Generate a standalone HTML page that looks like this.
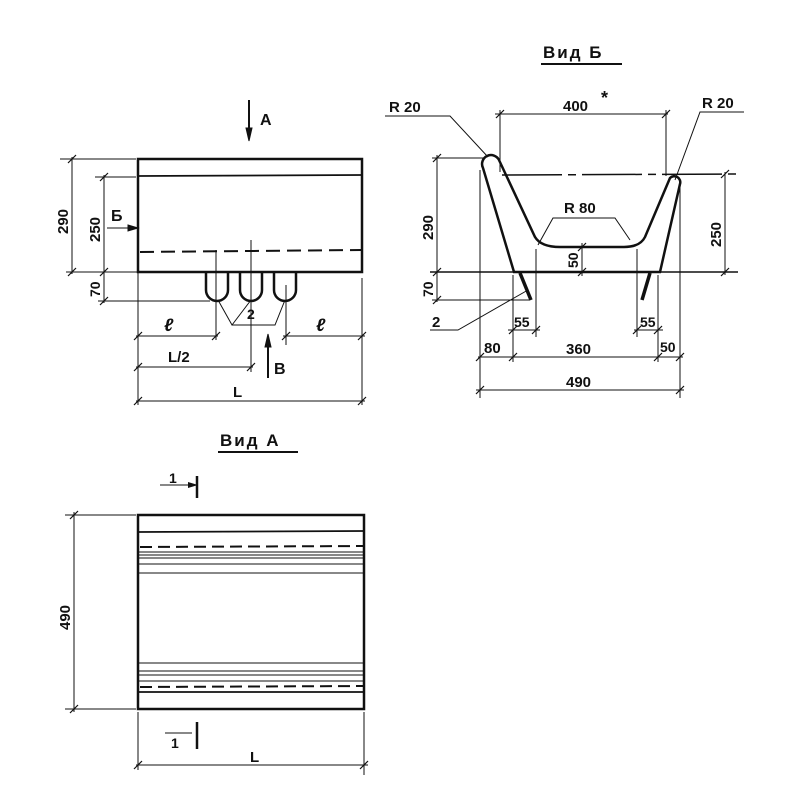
<!DOCTYPE html>
<html><head><meta charset="utf-8"><style>
body{margin:0;background:#fff}
svg{display:block}
text{font-family:"Liberation Sans","DejaVu Sans",sans-serif;font-weight:bold;fill:#111}
</style></head><body>
<svg width="800" height="800" viewBox="0 0 800 800" xmlns="http://www.w3.org/2000/svg" stroke="#111" fill="none">
<!-- TOP VIEW -->
<rect x="138" y="159" width="224" height="113" stroke-width="2.5"/>
<line x1="138" y1="176" x2="362" y2="175" stroke-width="1.8"/>
<line x1="140" y1="252" x2="362" y2="250" stroke-width="2" stroke-dasharray="14,7"/>
<path d="M206,272 V290 A11,11 0 0 0 228,290 V272 M240,272 V290 A11,11 0 0 0 262,290 V272 M274,272 V290 A11,11 0 0 0 296,290 V272" stroke-width="2.5"/>
<g stroke-width="1">
<line x1="60" y1="159" x2="136" y2="159"/><line x1="72" y1="157" x2="72" y2="274"/>
<line x1="95" y1="177" x2="136" y2="177"/><line x1="104" y1="175" x2="104" y2="303"/>
<line x1="66" y1="272" x2="138" y2="272"/><line x1="98" y1="301" x2="210" y2="301"/>
<line x1="138" y1="272" x2="138" y2="405"/><line x1="362" y1="278" x2="362" y2="405"/>
<line x1="216" y1="250" x2="216" y2="340"/><line x1="251" y1="240" x2="251" y2="372"/><line x1="286" y1="285" x2="286" y2="345"/>
<line x1="136" y1="336" x2="218" y2="336"/><line x1="283" y1="336" x2="365" y2="336"/>
<line x1="136" y1="367" x2="253" y2="367"/><line x1="136" y1="401" x2="365" y2="401"/>
<polyline points="218,300 232,325 251,300"/><polyline points="232,325 275,325 285,300"/>
<line x1="107" y1="228" x2="128" y2="228"/>
</g>
<path d="M128,225 L138,228 L128,231Z" fill="#111"/>
<line x1="249" y1="100" x2="249" y2="130" stroke-width="2"/><path d="M246,128 L249,141 L252,128Z" fill="#111"/>
<line x1="268" y1="378" x2="268" y2="345" stroke-width="2"/><path d="M265,347 L268,334 L271,347Z" fill="#111"/>
<g stroke-width="1.2">
<line x1="68" y1="163" x2="76" y2="155"/><line x1="68" y1="276" x2="76" y2="268"/>
<line x1="100" y1="181" x2="108" y2="173"/><line x1="100" y1="276" x2="108" y2="268"/><line x1="100" y1="305" x2="108" y2="297"/>
<line x1="134" y1="340" x2="142" y2="332"/><line x1="212" y1="340" x2="220" y2="332"/><line x1="282" y1="340" x2="290" y2="332"/><line x1="358" y1="340" x2="366" y2="332"/>
<line x1="134" y1="371" x2="142" y2="363"/><line x1="247" y1="371" x2="255" y2="363"/>
<line x1="134" y1="405" x2="142" y2="397"/><line x1="358" y1="405" x2="366" y2="397"/>
</g>
<g stroke="none" font-size="16">
<text x="260" y="125">A</text>
<text x="111" y="221">Б</text>
<text x="274" y="374">B</text>
<text x="247" y="319" font-size="14">2</text>
<text x="164" y="331" font-style="italic" font-size="18">ℓ</text><text x="316" y="331" font-style="italic" font-size="18">ℓ</text>
<text x="168" y="362" font-size="15">L/2</text><text x="233" y="397" font-size="15">L</text>
<text transform="translate(68,234) rotate(-90)" font-size="15">290</text>
<text transform="translate(100,242) rotate(-90)" font-size="15">250</text>
<text transform="translate(100,297) rotate(-90)" font-size="14">70</text>
</g>
<!-- VID B -->
<text x="543" y="58" stroke="none" font-size="17" letter-spacing="2">Вид Б</text>
<line x1="541" y1="64" x2="622" y2="64" stroke-width="2"/>
<path d="M483,168 A8,8 0 0 1 499,160 L535,237 Q541,247 560,247 L624,247 Q640,247 645,237 L670,178 A6,6 0 0 1 680,184 L660,272 L514,272 Z" stroke-width="2.5"/>
<line x1="520" y1="273" x2="531" y2="300" stroke-width="3.5"/>
<line x1="650" y1="273" x2="642" y2="300" stroke-width="3.5"/>
<line x1="502" y1="175" x2="740" y2="174" stroke-width="1.5" stroke-dasharray="60,6,8,6"/>
<g stroke-width="1">
<line x1="430" y1="272" x2="738" y2="272" stroke-width="1.5"/>
<line x1="495" y1="114" x2="668" y2="114"/>
<line x1="500" y1="110" x2="500" y2="172"/><line x1="666" y1="110" x2="666" y2="176"/>
<line x1="432" y1="158" x2="485" y2="158"/><line x1="437" y1="155" x2="437" y2="302"/>
<line x1="432" y1="300" x2="530" y2="300"/>
<line x1="725" y1="172" x2="725" y2="275"/>
<line x1="582" y1="243" x2="582" y2="276"/>
<line x1="480" y1="170" x2="480" y2="398"/><line x1="513" y1="275" x2="513" y2="362"/>
<line x1="536" y1="249" x2="536" y2="337"/><line x1="637" y1="249" x2="637" y2="337"/>
<line x1="658" y1="275" x2="658" y2="362"/><line x1="680" y1="185" x2="680" y2="398"/>
<line x1="508" y1="330" x2="540" y2="330"/><line x1="634" y1="330" x2="663" y2="330"/>
<line x1="478" y1="357" x2="683" y2="357"/><line x1="476" y1="390" x2="684" y2="390"/>
<polyline points="385,116 450,116 488,157"/>
<polyline points="744,112 700,112 675,180"/>
<polyline points="430,330 458,330 528,290"/>
<polyline points="538,245 553,218 615,218 630,240"/>
</g>
<g stroke-width="1.2">
<line x1="496" y1="118" x2="504" y2="110"/><line x1="662" y1="118" x2="670" y2="110"/>
<line x1="433" y1="162" x2="441" y2="154"/><line x1="433" y1="276" x2="441" y2="268"/><line x1="433" y1="304" x2="441" y2="296"/>
<line x1="721" y1="178" x2="729" y2="170"/><line x1="721" y1="276" x2="729" y2="268"/>
<line x1="578" y1="251" x2="586" y2="243"/><line x1="578" y1="276" x2="586" y2="268"/>
<line x1="509" y1="334" x2="517" y2="326"/><line x1="532" y1="334" x2="540" y2="326"/><line x1="633" y1="334" x2="641" y2="326"/><line x1="654" y1="334" x2="662" y2="326"/>
<line x1="476" y1="361" x2="484" y2="353"/><line x1="509" y1="361" x2="517" y2="353"/><line x1="654" y1="361" x2="662" y2="353"/><line x1="676" y1="361" x2="684" y2="353"/>
<line x1="476" y1="394" x2="484" y2="386"/><line x1="676" y1="394" x2="684" y2="386"/>
</g>
<g stroke="none" font-size="15">
<text x="563" y="111">400</text><text x="601" y="104" font-size="18">*</text>
<text x="389" y="112">R 20</text><text x="702" y="108">R 20</text>
<text x="564" y="213">R 80</text>
<text x="432" y="327">2</text>
<text x="514" y="327" font-size="14">55</text><text x="640" y="327" font-size="14">55</text>
<text x="484" y="353">80</text><text x="566" y="354">360</text><text x="660" y="352" font-size="14">50</text>
<text x="566" y="387">490</text>
<text transform="translate(433,240) rotate(-90)">290</text>
<text transform="translate(721,247) rotate(-90)">250</text>
<text transform="translate(578,268) rotate(-90)" font-size="14">50</text>
<text transform="translate(433,297) rotate(-90)" font-size="14">70</text>
</g>
<!-- VID A -->
<text x="220" y="446" stroke="none" font-size="17" letter-spacing="2">Вид А</text>
<line x1="218" y1="452" x2="298" y2="452" stroke-width="2"/>
<rect x="138" y="515" width="226" height="194" stroke-width="2.5"/>
<line x1="138" y1="532" x2="364" y2="531" stroke-width="1.8"/>
<line x1="140" y1="547" x2="364" y2="546" stroke-width="2" stroke-dasharray="12,6"/>
<g stroke-width="1">
<line x1="138" y1="552" x2="364" y2="552"/><line x1="138" y1="555" x2="364" y2="555"/><line x1="138" y1="558" x2="364" y2="558"/>
<line x1="138" y1="564" x2="364" y2="564"/><line x1="138" y1="573" x2="364" y2="573"/>
<line x1="138" y1="663" x2="364" y2="663"/><line x1="138" y1="671" x2="364" y2="671"/><line x1="138" y1="675" x2="364" y2="675"/>
<line x1="138" y1="681" x2="364" y2="681"/>
<line x1="65" y1="515" x2="136" y2="515"/><line x1="74" y1="512" x2="74" y2="712"/><line x1="65" y1="709" x2="136" y2="709"/>
<line x1="138" y1="712" x2="138" y2="770"/><line x1="364" y1="712" x2="364" y2="775"/>
<line x1="136" y1="765" x2="368" y2="765"/>
<line x1="160" y1="485" x2="190" y2="485"/><line x1="165" y1="733" x2="192" y2="733"/>
</g>
<line x1="140" y1="687" x2="364" y2="686" stroke-width="2" stroke-dasharray="12,6"/>
<line x1="138" y1="692" x2="364" y2="692" stroke-width="1.8"/>
<g stroke-width="1.2">
<line x1="70" y1="519" x2="78" y2="511"/><line x1="70" y1="713" x2="78" y2="705"/>
<line x1="134" y1="769" x2="142" y2="761"/><line x1="360" y1="769" x2="368" y2="761"/>
</g>
<path d="M188,482 L198,485 L188,488Z" fill="#111" stroke="none"/>
<line x1="197" y1="476" x2="197" y2="498" stroke-width="2.5"/>
<line x1="197" y1="722" x2="197" y2="749" stroke-width="2.5"/>
<g stroke="none" font-size="14">
<text x="169" y="483">1</text><text x="171" y="748">1</text>
<text x="250" y="762" font-size="15">L</text>
<text transform="translate(70,630) rotate(-90)" font-size="15">490</text>
</g>
</svg>
</body></html>
